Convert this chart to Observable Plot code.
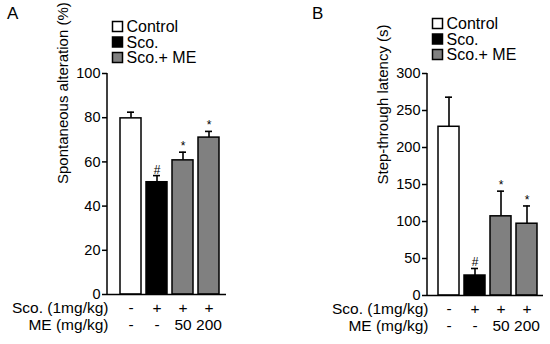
<!DOCTYPE html>
<html>
<head>
<meta charset="utf-8">
<script src="https://cdn.jsdelivr.net/npm/d3@7"></script>
<script src="https://cdn.jsdelivr.net/npm/@observablehq/plot@0.6"></script>
<style>
  html, body { margin: 0; padding: 0; background: #fff; }
  #wrap { display: flex; width: 550px; height: 344px; }
  svg { font-family: "Liberation Sans", Arial, Helvetica, sans-serif; }
</style>
</head>
<body>
<div id="wrap"></div>
<script>
// ---- data ----
const groups = ["Control", "Sco.", "Sco.+ME 50", "Sco.+ME 200"];
const groupColors = ["#ffffff", "#000000", "#808080", "#808080"];
const legendLabels = ["Control", "Sco.", "Sco.+ ME"];
const legendColors = ["#ffffff", "#000000", "#808080"];
const scoRow = ["-", "+", "+", "+"];
const meRow = ["-", "-", "50", "200"];
const rowLabels = ["Sco. (1mg/kg)", "ME (mg/kg)"];

const alterMean = [79.7, 50.8, 60.7, 71.0];
const alterSem = [2.8, 3.0, 3.7, 2.8];
const alterSig = ["", "#", "*", "*"];
const alterTicks = [0, 20, 40, 60, 80, 100];

const latMean = [228, 27, 107, 97];
const latSem = [40, 9.5, 34, 24];
const latSig = ["", "#", "*", "*"];
const latTicks = [0, 50, 100, 150, 200, 250, 300];

function panel(o) {
  const data = groups.map((g, i) => ({
    g, mean: o.mean[i], top: o.mean[i] + o.sem[i], fill: groupColors[i], sig: o.sig[i]
  }));
  const chart = Plot.plot({
    width: 275,
    height: 344,
    marginLeft: o.ml,
    marginRight: o.mr,
    marginTop: 73,
    marginBottom: o.mb,
    style: { fontFamily: '"Liberation Sans", Arial, Helvetica, sans-serif', background: "#fff" },
    x: { type: "band", domain: groups, range: o.xr, paddingInner: 0.19, paddingOuter: 0.095, axis: null },
    y: { domain: o.domain, ticks: o.ticks, axis: null },
    marks: [
      Plot.ruleX(data, { x: "g", y1: "mean", y2: "top", stroke: "black", strokeWidth: 1.6 }),
      Plot.tickY(data, { x: "g", y: "top", stroke: "black", strokeWidth: 1.6, insetLeft: 7, insetRight: 7 }),
      Plot.barY(data, { x: "g", y: "mean", fill: "fill", stroke: "black", strokeWidth: 1.5 }),
      Plot.text(data, { x: "g", y: "top", text: "sig", lineAnchor: "bottom", dy: -2,
        fontSize: 12, fill: "black" }),
      Plot.axisY({ ticks: o.ticks, tickSize: 5, tickPadding: 2, fontSize: 14.5, label: null, stroke: "black", strokeWidth: 1.5 }),
      Plot.ruleY([0], { stroke: "black", strokeWidth: 1.5 }),
      Plot.text([o.ylabel], { frameAnchor: "left", dx: -44, rotate: -90, fontSize: 15, fill: "black" }),
      Plot.text(groups, { x: d => d, text: (d, i) => scoRow[i], frameAnchor: "bottom", dy: 18.5, fontSize: 15.5, fill: "black" }),
      Plot.text(groups, { x: d => d, text: (d, i) => meRow[i], frameAnchor: "bottom", dy: 35.5, fontSize: 15.5, fill: "black" }),
      Plot.text([rowLabels[0]], { frameAnchor: "bottom-left", textAnchor: "end", dx: 1, dy: 18.5, fontSize: 15.5, fill: "black" }),
      Plot.text([rowLabels[1]], { frameAnchor: "bottom-left", textAnchor: "end", dx: 1, dy: 35.5, fontSize: 15.5, fill: "black" })
    ]
  });
  const svg = d3.select(chart);
  // y axis line
  svg.append("line")
    .attr("x1", o.ml).attr("x2", o.ml)
    .attr("y1", 73).attr("y2", 344 - o.mb)
    .attr("stroke", "black").attr("stroke-width", 1.5);
  // panel letter
  svg.append("text").attr("x", o.letterX).attr("y", 19).attr("text-anchor", "start")
    .attr("font-size", 17).attr("fill", "black").text(o.letter);
  // legend
  const lg = svg.append("g").attr("text-anchor", "start");
  legendLabels.forEach((lab, i) => {
    const top = o.legTop + i * 15.5;
    lg.append("rect").attr("x", o.legX).attr("y", top).attr("width", 10).attr("height", 10)
      .attr("fill", legendColors[i]).attr("stroke", "black").attr("stroke-width", 1.5);
    lg.append("text").attr("x", o.legX + 14).attr("y", top + 10.5).attr("text-anchor", "start")
      .attr("font-size", 16).attr("fill", "black").text(lab);
  });
  return chart;
}

const wrap = document.getElementById("wrap");
wrap.appendChild(panel({
  mean: alterMean, sem: alterSem, sig: alterSig, ticks: alterTicks, domain: [0, 100],
  ml: 107, mr: 49, mb: 50, xr: [117.5, 221.5],
  ylabel: "Spontaneous alteration (%)", letter: "A", letterX: 7, legX: 112.5, legTop: 21.5
}));
wrap.appendChild(panel({
  mean: latMean, sem: latSem, sig: latSig, ticks: latTicks, domain: [0, 300],
  ml: 152, mr: 7, mb: 49, xr: [160.5, 264.5],
  ylabel: "Step-through latency (s)", letter: "B", letterX: 37, legX: 157.5, legTop: 18.5
}));
</script>
</body>
</html>
